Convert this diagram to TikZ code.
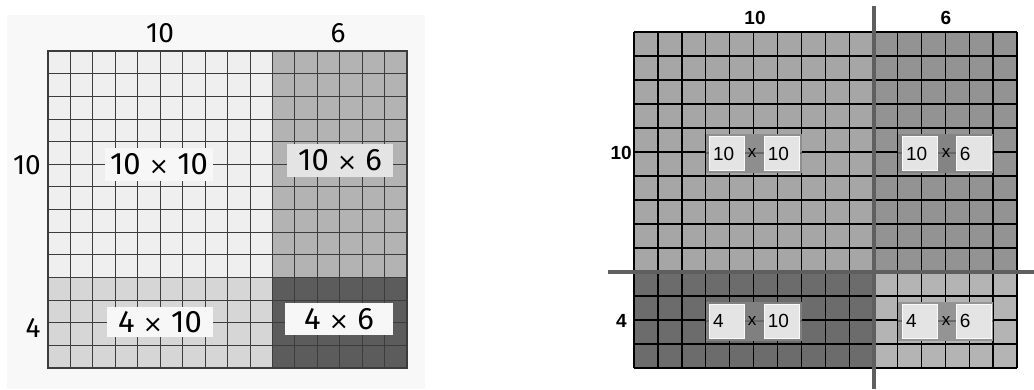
\documentclass[tikz,border=0pt]{standalone}
\usepackage{fontspec}
\setmainfont{Liberation Sans}
\newfontfamily\dinfont{Fira Sans}
\newfontfamily\symfont{DejaVu Sans}
\usetikzlibrary{positioning}
\definecolor{paper}{HTML}{F8F8F8}
\definecolor{pale}{HTML}{EFEFEF}
\definecolor{midgrey}{HTML}{B3B3B3}
\definecolor{lightgrey}{HTML}{D6D6D6}
\definecolor{darkgrey}{HTML}{5C5C5C}
\definecolor{penline}{HTML}{3C3C3C}
\definecolor{tlgrey}{HTML}{A6A6A6}
\definecolor{trgrey}{HTML}{939393}
\definecolor{blgrey}{HTML}{6C6C6C}
\definecolor{brgrey}{HTML}{B4B4B4}
\definecolor{splitgrey}{HTML}{5F5F5F}
\definecolor{boxgrey}{HTML}{E4E4E4}
\definecolor{tlband}{HTML}{8E8E8E}
\definecolor{trband}{HTML}{848484}
\definecolor{blband}{HTML}{808080}
\definecolor{brband}{HTML}{949494}
\definecolor{seamgrey}{HTML}{686868}
\newcommand{\timesmark}{{\symfont\fontsize{24}{24}\selectfont ×}}
\tikzstyle{sidelabel} = [font=\dinfont\fontsize{28}{28}\selectfont, inner sep=0pt]
\tikzstyle{prodlabel} = [font=\dinfont\fontsize{31}{31}\selectfont, fill=white!97!black, inner sep=0pt, minimum height=33pt]
\tikzstyle{boldlabel} = [font=\bfseries\fontsize{19}{19}\selectfont, inner sep=0pt]
\tikzstyle{band} = [minimum width=96pt, minimum height=39pt, inner sep=0pt]
\tikzstyle{valbox} = [fill=boxgrey, draw=white!80!boxgrey, line width=0.6pt, font=\fontsize{19}{19}\selectfont, text width=27pt, align=left, inner sep=4pt, minimum height=34pt]
\tikzstyle{timesign} = [font=\fontsize{17}{17}\selectfont, inner sep=0pt]
\tikzstyle{seam} = [seamgrey, line width=1.3pt]

\begin{document}
\begin{tikzpicture}[x=1pt, y=-1pt]
    \useasboundingbox (0,0) rectangle (1034,389);
    \fill[paper] (7,15) rectangle (425,389);

    % left: split rectangle
    \fill[pale] (48,51) rectangle (272,277);
    \fill[midgrey] (272,51) rectangle (407,277);
    \fill[lightgrey] (48,277) rectangle (272,368);
    \fill[darkgrey] (272,277) rectangle (407,368);
    \foreach \i in {1,...,15}
        \draw[penline, line width=0.8pt] (48+\i*22.44,51) -- (48+\i*22.44,368);
    \foreach \j in {1,...,13}
        \draw[penline, line width=0.8pt] (48,51+\j*22.64) -- (407,51+\j*22.64);
    \draw[penline, line width=1.2pt] (48,51) rectangle (407,368);

    \node (ltop) [sidelabel] at (160,33) {10};
    \node (rtop) [sidelabel] at (338,33) {6};
    \node (lten) [sidelabel] at (27,165) {10};
    \node (lfour) [sidelabel] at (33,328) {4};

    \node (aa) [prodlabel, minimum width=108pt] at (159,164) {10 \timesmark{} 10};
    \node (ab) [prodlabel, minimum width=106pt, fill=boxgrey] at (340,160.5) {10 \timesmark{} 6};
    \node (ba) [prodlabel, minimum width=106pt, minimum height=30pt] at (160,322) {4 \timesmark{} 10};
    \node (bb) [prodlabel, minimum width=108pt, minimum height=32pt] at (339,319) {4 \timesmark{} 6};

    % right: split grid with cut lines
    \fill[tlgrey] (634,32) rectangle (874,272);
    \fill[trgrey] (874,32) rectangle (1017,272);
    \fill[blgrey] (634,272) rectangle (874,368);
    \fill[brgrey] (874,272) rectangle (1017,368);
    \foreach \i in {0,...,16}
        \draw[black, line width=1.3pt] (634+\i*23.94,32) -- (634+\i*23.94,368);
    \foreach \j in {0,...,14}
        \draw[black, line width=1.3pt] (634,32+\j*24) -- (1017,32+\j*24);
    \draw[splitgrey, line width=3.5pt] (874,6) -- (874,389);
    \draw[splitgrey, line width=3.5pt] (608,272) -- (1034,272);

    \node (gtop) [boldlabel] at (755,18) {10};
    \node (stop) [boldlabel] at (946,18) {6};
    \node (gten) [boldlabel, anchor=east] at (632,153) {10};
    \node (gfour) [boldlabel, anchor=east] at (627,321) {4};

    % 10 x 10
    \node (tlb) [band, fill=tlband] at (754,153.5) {};
    \draw[seam] (tlb.west |- 0,153) -- (tlb.east |- 0,153);
    \node (tlone) [valbox, right=3pt of tlb.west] {10};
    \node (tltwo) [valbox, left=3pt of tlb.east] {10};
    \node (tlx) [timesign] at (752,153) {x};
    % 10 x 6
    \node (trb) [band, fill=trband, minimum width=95pt] at (945.5,153.5) {};
    \draw[seam] (trb.west |- 0,153) -- (trb.east |- 0,153);
    \node (trone) [valbox, right=4pt of trb.west] {10};
    \node (trtwo) [valbox, left=2pt of trb.east] {6};
    \node (trx) [timesign] at (946,153) {x};
    % 4 x 10
    \node (blb) [band, fill=blband] at (754,321) {};
    \draw[seam] (blb.west |- 0,321) -- (blb.east |- 0,321);
    \node (blone) [valbox, right=3pt of blb.west] {4};
    \node (bltwo) [valbox, left=3pt of blb.east] {10};
    \node (blx) [timesign] at (752,321) {x};
    % 4 x 6
    \node (brb) [band, fill=brband, minimum width=95pt] at (945.5,321) {};
    \draw[seam] (brb.west |- 0,321) -- (brb.east |- 0,321);
    \node (brone) [valbox, right=4pt of brb.west] {4};
    \node (brtwo) [valbox, left=2pt of brb.east] {6};
    \node (brx) [timesign] at (946,321) {x};
\end{tikzpicture}
\end{document}
